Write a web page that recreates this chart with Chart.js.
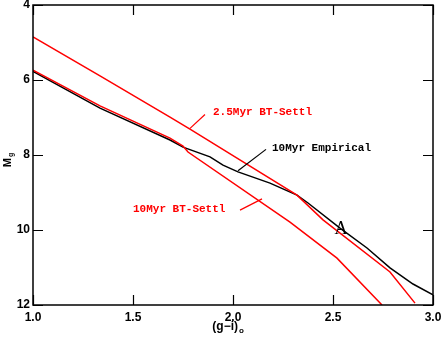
<!DOCTYPE html>
<html>
<head>
<meta charset="utf-8">
<script src="https://cdn.jsdelivr.net/npm/chart.js@4.4.1/dist/chart.umd.min.js"></script>
<style>
  html, body { margin: 0; padding: 0; background: #fff; }
  #wrap { width: 443px; height: 339px; }
</style>
</head>
<body>
<div id="wrap"><canvas id="cmd"></canvas></div>
<script>
// Data: colour (g-i)_o vs absolute magnitude M_g
const empiricalGI = [1.0, 1.335, 1.685, 1.75, 1.885, 1.95, 2.025, 2.185, 2.32, 2.375, 2.535, 2.67, 2.785, 2.9, 3.0];
const empiricalMg = [5.77, 6.75, 7.6, 7.79, 8.05, 8.27, 8.45, 8.75, 9.07, 9.28, 9.95, 10.48, 11.01, 11.44, 11.73];

const settl25GI = [1.0, 1.335, 1.685, 1.785, 2.32, 2.45, 2.785, 2.91];
const settl25Mg = [4.85, 5.89, 6.99, 7.31, 9.07, 9.73, 11.12, 11.95];

const settl10GI = [1.0, 1.335, 1.685, 1.75, 1.775, 2.285, 2.52, 2.745];
const settl10Mg = [5.74, 6.69, 7.55, 7.76, 7.92, 9.79, 10.75, 12.0];

const xTicks = [1.0, 1.5, 2.0, 2.5, 3.0];
const yTicks = [4, 6, 8, 10, 12];

// Curve labels: text anchor and pointer line, in data units
const curveLabels = [
    { text: '2.5Myr BT-Settl', color: '#ff0000', at: [1.9, 6.85], from: [1.785, 7.29], to: [1.86, 6.92] },
    { text: '10Myr Empirical', color: '#000000', at: [2.195, 7.81], from: [2.025, 8.42], to: [2.165, 7.85] },
    { text: '10Myr BT-Settl', color: '#ff0000', at: [1.5, 9.44], from: [2.035, 9.47], to: [2.145, 9.17] }
];
const starLabel = { text: 'A', at: [2.54, 9.97] };

function toPoints(xs, ys) {
    return xs.map((x, i) => ({ x, y: ys[i] }));
}

// Inward ticks, tick labels, frame, curve labels and axis titles
const decorPlugin = {
    id: 'decor',
    afterDraw(chart) {
        const { ctx, chartArea: a, scales } = chart;
        const sx = scales.x, sy = scales.y;
        ctx.save();
        ctx.strokeStyle = '#000';
        ctx.lineWidth = 1.5;
        ctx.strokeRect(a.left, a.top, a.right - a.left, a.bottom - a.top);

        ctx.lineWidth = 1.2;
        ctx.beginPath();
        xTicks.forEach(v => {
            const px = Math.round(sx.getPixelForValue(v)) + 0.5;
            ctx.moveTo(px, a.bottom); ctx.lineTo(px, a.bottom - 10);
            ctx.moveTo(px, a.top); ctx.lineTo(px, a.top + 10);
        });
        yTicks.forEach(v => {
            const py = Math.round(sy.getPixelForValue(v)) + 0.5;
            ctx.moveTo(a.left, py); ctx.lineTo(a.left + 10, py);
            ctx.moveTo(a.right, py); ctx.lineTo(a.right - 10, py);
        });
        ctx.stroke();

        // tick labels
        ctx.fillStyle = '#000';
        ctx.font = 'bold 12px "Liberation Sans"';
        ctx.textBaseline = 'middle';
        ctx.textAlign = 'center';
        xTicks.forEach(v => {
            ctx.fillText(v.toFixed(1), sx.getPixelForValue(v), a.bottom + 13);
        });
        ctx.textAlign = 'right';
        yTicks.forEach(v => {
            ctx.fillText(String(v), a.left - 3, Math.max(sy.getPixelForValue(v), 5));
        });

        // curve labels
        ctx.font = 'bold 11px "Liberation Mono"';
        ctx.textAlign = 'left';
        curveLabels.forEach(l => {
            ctx.strokeStyle = l.color;
            ctx.lineWidth = 1.2;
            ctx.beginPath();
            ctx.moveTo(sx.getPixelForValue(l.from[0]), sy.getPixelForValue(l.from[1]));
            ctx.lineTo(sx.getPixelForValue(l.to[0]), sy.getPixelForValue(l.to[1]));
            ctx.stroke();
            ctx.fillStyle = l.color;
            ctx.fillText(l.text, sx.getPixelForValue(l.at[0]), sy.getPixelForValue(l.at[1]));
        });

        ctx.fillStyle = '#000';
        ctx.textAlign = 'center';
        ctx.font = '18px "Liberation Serif"';
        ctx.fillText(starLabel.text, sx.getPixelForValue(starLabel.at[0]), sy.getPixelForValue(starLabel.at[1]));

        // x title: (g-i)o
        const cx = (a.left + a.right) / 2;
        ctx.font = 'bold 12px "Liberation Sans"';
        ctx.textAlign = 'right';
        ctx.fillText('(g\u2212i)', cx + 5, 327);
        ctx.font = 'bold 8px "Liberation Sans"';
        ctx.textAlign = 'left';
        ctx.fillText('o', cx + 6, 331);

        // y title: Mg rotated
        ctx.translate(8, 160);
        ctx.rotate(-Math.PI / 2);
        ctx.font = 'bold 11px "Liberation Sans"';
        ctx.textAlign = 'right';
        ctx.fillText('M', 2, 0);
        ctx.font = 'bold 7px "Liberation Sans"';
        ctx.textAlign = 'left';
        ctx.fillText('g', 3, 3);
        ctx.restore();
    }
};

const lineStyle = (data, color) => ({
    data,
    borderColor: color,
    borderWidth: 1.5,
    pointRadius: 0,
    fill: false,
    tension: 0
});

new Chart(document.getElementById('cmd'), {
    type: 'line',
    data: {
        datasets: [
            lineStyle(toPoints(settl25GI, settl25Mg), '#ff0000'),
            lineStyle(toPoints(settl10GI, settl10Mg), '#ff0000'),
            lineStyle(toPoints(empiricalGI, empiricalMg), '#000000')
        ]
    },
    options: {
        responsive: true,
        maintainAspectRatio: false,
        animation: false,
        layout: { padding: { top: 5, right: 10, left: 0, bottom: 0 } },
        plugins: { legend: { display: false }, tooltip: { enabled: false } },
        scales: {
            x: {
                type: 'linear',
                min: 1, max: 3,
                afterFit: s => { s.height = 34; },
                grid: { display: false, drawTicks: false },
                border: { display: false },
                ticks: { display: false }
            },
            y: {
                type: 'linear',
                min: 4, max: 12,
                reverse: true,
                afterFit: s => { s.width = 33; },
                grid: { display: false, drawTicks: false },
                border: { display: false },
                ticks: { display: false }
            }
        }
    },
    plugins: [decorPlugin]
});
</script>
</body>
</html>
